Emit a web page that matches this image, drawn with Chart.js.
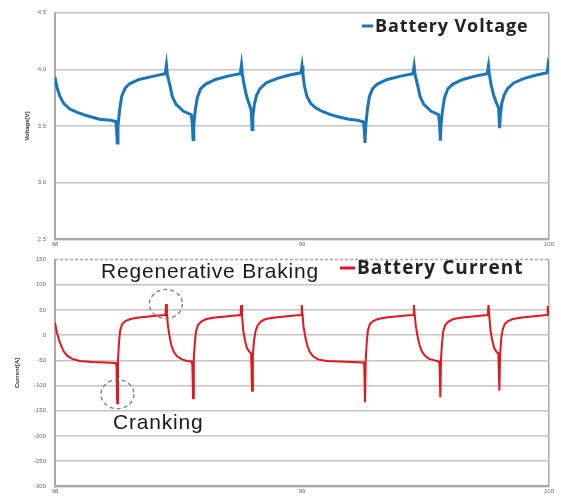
<!DOCTYPE html>
<html>
<head>
<meta charset="utf-8">
<script src="https://cdn.jsdelivr.net/npm/chart.js@4"></script>
<style>
  html, body { margin:0; padding:0; background:#fff; }
  .box { position:absolute; left:0; width:561px; height:252px; }
</style>
</head>
<body>
<div class="box" style="top:0"><canvas id="voltChart" width="561" height="252"></canvas></div>
<div class="box" style="top:247px"><canvas id="currChart" width="561" height="252"></canvas></div>
<script>
const timeV = [
  98.000,98.008,98.020,98.035,98.060,98.090,98.130,98.180,98.225,98.246,98.249,98.252,98.255,98.262,98.270,98.283,98.300,98.340,98.400,98.446,
  98.451,98.455,98.465,98.475,98.490,98.520,98.552,98.556,98.559,98.562,98.568,98.576,98.590,98.610,98.650,98.700,98.750,98.755,98.759,98.766,
  98.776,98.788,98.794,98.798,98.801,98.807,98.816,98.830,98.855,98.900,98.950,98.996,99.000,99.004,99.010,99.020,99.035,99.055,99.080,99.115,
  99.150,99.190,99.225,99.249,99.252,99.255,99.258,99.265,99.273,99.286,99.305,99.345,99.400,99.449,99.454,99.458,99.468,99.478,99.493,99.523,
  99.553,99.557,99.560,99.563,99.569,99.577,99.591,99.611,99.651,99.701,99.750,99.755,99.759,99.766,99.776,99.788,99.796,99.800,99.803,99.809,
  99.818,99.832,99.857,99.900,99.950,99.993,99.997,100.000
];
const voltage = [
  3.93,3.84,3.76,3.70,3.65,3.62,3.59,3.56,3.55,3.54,3.48,3.35,3.50,3.65,3.76,3.83,3.87,3.91,3.94,3.96,
  4.04,3.95,3.86,3.76,3.69,3.63,3.60,3.52,3.38,3.52,3.64,3.75,3.83,3.87,3.91,3.94,3.96,4.04,3.95,3.86,
  3.76,3.68,3.64,3.47,3.58,3.69,3.77,3.83,3.88,3.92,3.95,3.97,4.03,3.95,3.85,3.76,3.70,3.66,3.63,3.60,
  3.58,3.56,3.55,3.535,3.47,3.35,3.50,3.65,3.76,3.83,3.87,3.91,3.94,3.96,4.03,3.95,3.86,3.76,3.69,3.63,
  3.60,3.52,3.37,3.52,3.64,3.75,3.83,3.87,3.91,3.94,3.96,4.03,3.95,3.86,3.77,3.70,3.66,3.48,3.59,3.70,
  3.77,3.83,3.88,3.92,3.95,3.97,4.05,4.03
];

const timeI = [
  98.000,98.008,98.020,98.035,98.050,98.070,98.100,98.150,98.200,98.246,98.249,98.252,98.255,98.259,98.264,98.272,98.285,98.305,98.340,98.380,
  98.420,98.447,98.450,98.453,98.457,98.463,98.471,98.481,98.494,98.514,98.535,98.553,98.556,98.559,98.562,98.566,98.571,98.579,98.592,98.612,
  98.648,98.690,98.730,98.751,98.754,98.757,98.762,98.769,98.777,98.787,98.794,98.798,98.801,98.806,98.812,98.820,98.833,98.853,98.890,98.930,
  98.970,98.996,98.999,99.002,99.006,99.012,99.020,99.030,99.045,99.065,99.100,99.150,99.200,99.249,99.252,99.255,99.258,99.262,99.267,99.275,
  99.288,99.308,99.340,99.380,99.420,99.450,99.453,99.456,99.461,99.467,99.475,99.485,99.498,99.515,99.537,99.554,99.557,99.560,99.563,99.567,
  99.572,99.580,99.593,99.613,99.650,99.690,99.730,99.752,99.755,99.758,99.763,99.770,99.778,99.787,99.795,99.799,99.802,99.807,99.813,99.821,
  99.834,99.854,99.890,99.930,99.970,99.992,99.995,99.998,100.000
];
const current = [
  25,5,-15,-32,-41,-47,-51,-53,-54,-55,-62,-135,-50,-15,10,22,28,32,35,37,
  39,40,62,44,20,0,-20,-33,-42,-48,-51,-52,-58,-125,-45,-15,8,20,27,32,
  35,37,39,40,60,40,10,-10,-25,-33,-36,-110,-40,-10,8,19,27,32,35,37,
  39,40,60,42,18,0,-18,-32,-42,-48,-51,-52,-53,-54,-60,-133,-50,-15,10,22,
  28,32,35,37,39,40,60,42,18,0,-18,-32,-41,-47,-50,-52,-58,-123,-45,-15,
  8,20,27,32,35,37,39,40,60,40,10,-10,-25,-33,-36,-110,-40,-5,12,22,
  28,32,35,37,39,40,58,42,40
];

const xTicks = [98, 99, 100];
const voltRange = [2.5, 4.5, 0.5];
const currRange = [-300, 150, 50];

const tickFont = {family:"'Liberation Sans', sans-serif", size:6};
const gridGrey = '#c4c4c4';
const axisGrey = '#a8a8a8';

function pts(xs, ys) { return xs.map((x, i) => ({x:x, y:ys[i]})); }

// draws the in-plot legend text, annotations, dashed top line
const extras = {
  id:'extras',
  afterDraw(chart, args, o) {
    const ctx = chart.ctx, a = chart.chartArea;
    const xs = chart.scales.x, ys = chart.scales.y;
    ctx.save();
    if (o.dashTop) {
      ctx.strokeStyle = axisGrey; ctx.lineWidth = 1.5; ctx.setLineDash([3,2]);
      ctx.beginPath(); ctx.moveTo(a.left, a.top); ctx.lineTo(a.right, a.top); ctx.stroke();
      ctx.setLineDash([]);
    }
    (o.circles || []).forEach(c => {
      ctx.strokeStyle = '#7a7a7a'; ctx.lineWidth = 1.3; ctx.setLineDash([4,3]);
      ctx.beginPath();
      ctx.ellipse(xs.getPixelForValue(c[0]), ys.getPixelForValue(c[1]), 16.5, 14.5, 0, 0, Math.PI*2);
      ctx.stroke();
      ctx.setLineDash([]);
    });
    (o.notes || []).forEach(n => {
      ctx.font = "21px 'Liberation Sans', Arial, sans-serif";
      ctx.letterSpacing = '0.8px';
      ctx.fillStyle = '#1a1a1a'; ctx.textBaseline = 'alphabetic'; ctx.textAlign = 'left';
      ctx.fillText(n.text, n.x, n.y);
    });
    const lg = o.legend;
    if (lg) {
      ctx.fillStyle = lg.color;
      ctx.fillRect(lg.x, lg.y - 1.5, lg.w, 3);
      ctx.font = 'bold ' + lg.size + "px 'Open Sans', sans-serif";
      ctx.letterSpacing = lg.sp + 'px';
      ctx.fillStyle = '#222'; ctx.textBaseline = 'middle'; ctx.textAlign = 'left';
      ctx.fillText(lg.text, lg.x + lg.w + 2, lg.y + 1);
    }
    ctx.letterSpacing = '0px';
    ctx.restore();
  }
};

function makeChart(id, label, xs, ys, color, width, range, fmt, title, titlePad, extraOpts, topGrid) {
  return new Chart(document.getElementById(id), {
    type:'line',
    data:{ datasets:[{
      label:label, data:pts(xs, ys),
      borderColor:color, backgroundColor:color, borderWidth:width,
      pointRadius:0, tension:0
    }]},
    options:{
      responsive:false, animation:false,
      layout:{padding:{left:0, right:12, top:8, bottom:0}},
      plugins:{legend:{display:false}, tooltip:{enabled:false}, extras:extraOpts},
      scales:{
        x:{
          type:'linear', min:98, max:100,
          afterBuildTicks:s => { s.ticks = xTicks.map(v => ({value:v})); },
          afterFit:s => { s.height = 11; },
          ticks:{font:tickFont, color:'#666', padding:1, maxRotation:0},
          grid:{drawTicks:false, lineWidth:1.5, color:c => c.tick && c.tick.value === 100 ? axisGrey : 'rgba(0,0,0,0)'},
          border:{color:axisGrey, width:2}
        },
        y:{
          min:range[0], max:range[1],
          afterFit:s => { s.width = 55; },
          ticks:{stepSize:range[2], font:tickFont, color:'#666', padding:9, callback:fmt},
          grid:{drawTicks:false, lineWidth:1.5, color:c => (c.tick && c.tick.value === range[1] && !topGrid) ? 'rgba(0,0,0,0)' : gridGrey},
          border:{color:axisGrey, width:2},
          title:{display:true, text:title, font:{family:"'Liberation Sans', sans-serif", size:6, weight:'bold'}, color:'#333', padding:{top:titlePad, bottom:0}}
        }
      }
    },
    plugins:[extras]
  });
}

makeChart('voltChart', 'Battery Voltage', timeV, voltage, '#1b75bb', 3, voltRange,
  v => v.toFixed(1), 'Voltage[V]', 24,
  {legend:{x:362, y:26, w:11, color:'#1b75bb', size:18, sp:0.9, text:'Battery Voltage'}}, true);

makeChart('currChart', 'Battery Current', timeI, current, '#e3151d', 2, currRange,
  v => String(v), 'Current[A]', 14,
  {dashTop:true,
   circles:[[98.449, 62], [98.253, -117]],
   notes:[{text:'Regenerative Braking', x:101, y:31}, {text:'Cranking', x:113, y:182}],
   legend:{x:340, y:21, w:15, color:'#e3151d', size:19, sp:1.1, text:'Battery Current'}}, false);
</script>
</body>
</html>
